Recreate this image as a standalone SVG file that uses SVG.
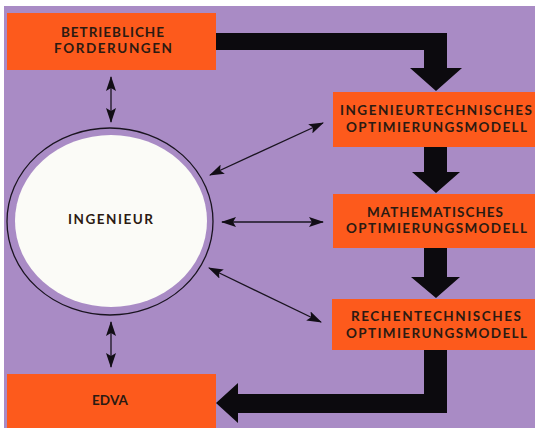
<svg xmlns="http://www.w3.org/2000/svg" width="535" height="430" viewBox="0 0 535 430">
<defs>
<style>
.box{fill:#fd5a1c;}
.lbl{font-family:"Lato","Open Sans","DejaVu Sans",sans-serif;font-size:13.5px;font-weight:700;fill:#2b1a12;text-anchor:middle;}
.thin{stroke:#1a1420;stroke-width:1.3;fill:none;marker-start:url(#ah);marker-end:url(#ah);}
.thick{fill:#0c0a0e;}
</style>
<marker id="ah" markerUnits="userSpaceOnUse" markerWidth="15" markerHeight="10" viewBox="0 0 15 10" refX="14" refY="5" orient="auto-start-reverse">
<path d="M0,0 L15,5 L0,10 L3,5 Z" fill="#120e16"/>
</marker>
</defs>
<rect x="0" y="0" width="535" height="430" fill="#ffffff"/>
<rect x="4" y="6" width="531" height="422" fill="#a98bc5"/>

<g id="connectors">
<path class="thick" d="M216,33 H447 V68 H462 L436,91 L410,68 H424 V50 H216 Z"/>
<path class="thick" d="M424,147 H447 V172 H460 L436,193 L412,172 H424 Z"/>
<path class="thick" d="M424,248 H447 V277 H460 L436,298 L411,277 H424 Z"/>
<path class="thick" d="M424,349 H447 V413 H238 V423 L216,403 L238,383 V394 H424 Z"/>
<line class="thin" x1="111" y1="77" x2="111" y2="122"/>
<line class="thin" x1="111" y1="322" x2="111" y2="367"/>
<line class="thin" x1="210" y1="175" x2="323" y2="123"/>
<line class="thin" x1="222" y1="222" x2="323" y2="222"/>
<line class="thin" x1="209" y1="268" x2="321" y2="322"/>
</g>

<g id="betriebliche">
<rect class="box" x="7" y="13" width="209" height="57"/>
<text class="lbl" x="112.5" y="37" textLength="103" lengthAdjust="spacing">BETRIEBLICHE</text>
<text class="lbl" x="113" y="53" textLength="118" lengthAdjust="spacing">FORDERUNGEN</text>
</g>

<g id="ingenieurtechnisches">
<rect class="box" x="333" y="92" width="202" height="55"/>
<text class="lbl" x="436" y="115" textLength="192" lengthAdjust="spacing">INGENIEURTECHNISCHES</text>
<text class="lbl" x="436.5" y="132" textLength="181" lengthAdjust="spacing">OPTIMIERUNGSMODELL</text>
</g>

<g id="mathematisches">
<rect class="box" x="333" y="194" width="202" height="54"/>
<text class="lbl" x="435" y="217" textLength="136" lengthAdjust="spacing">MATHEMATISCHES</text>
<text class="lbl" x="436.5" y="233" textLength="181" lengthAdjust="spacing">OPTIMIERUNGSMODELL</text>
</g>

<g id="rechentechnisches">
<rect class="box" x="332" y="299" width="203" height="51"/>
<text class="lbl" x="436" y="321" textLength="170" lengthAdjust="spacing">RECHENTECHNISCHES</text>
<text class="lbl" x="436.5" y="338" textLength="181" lengthAdjust="spacing">OPTIMIERUNGSMODELL</text>
</g>

<g id="edva">
<rect class="box" x="7" y="374" width="209" height="54"/>
<text class="lbl" x="110" y="405" textLength="36" lengthAdjust="spacing">EDVA</text>
</g>

<g id="ingenieur">
<ellipse cx="110" cy="221.5" rx="103" ry="93.5" fill="none" stroke="#1a1420" stroke-width="1.3"/>
<ellipse cx="111" cy="221" rx="96" ry="86" fill="#fbfbf7"/>
<text class="lbl" x="110.5" y="224" textLength="85" lengthAdjust="spacing">INGENIEUR</text>
</g>
</svg>
